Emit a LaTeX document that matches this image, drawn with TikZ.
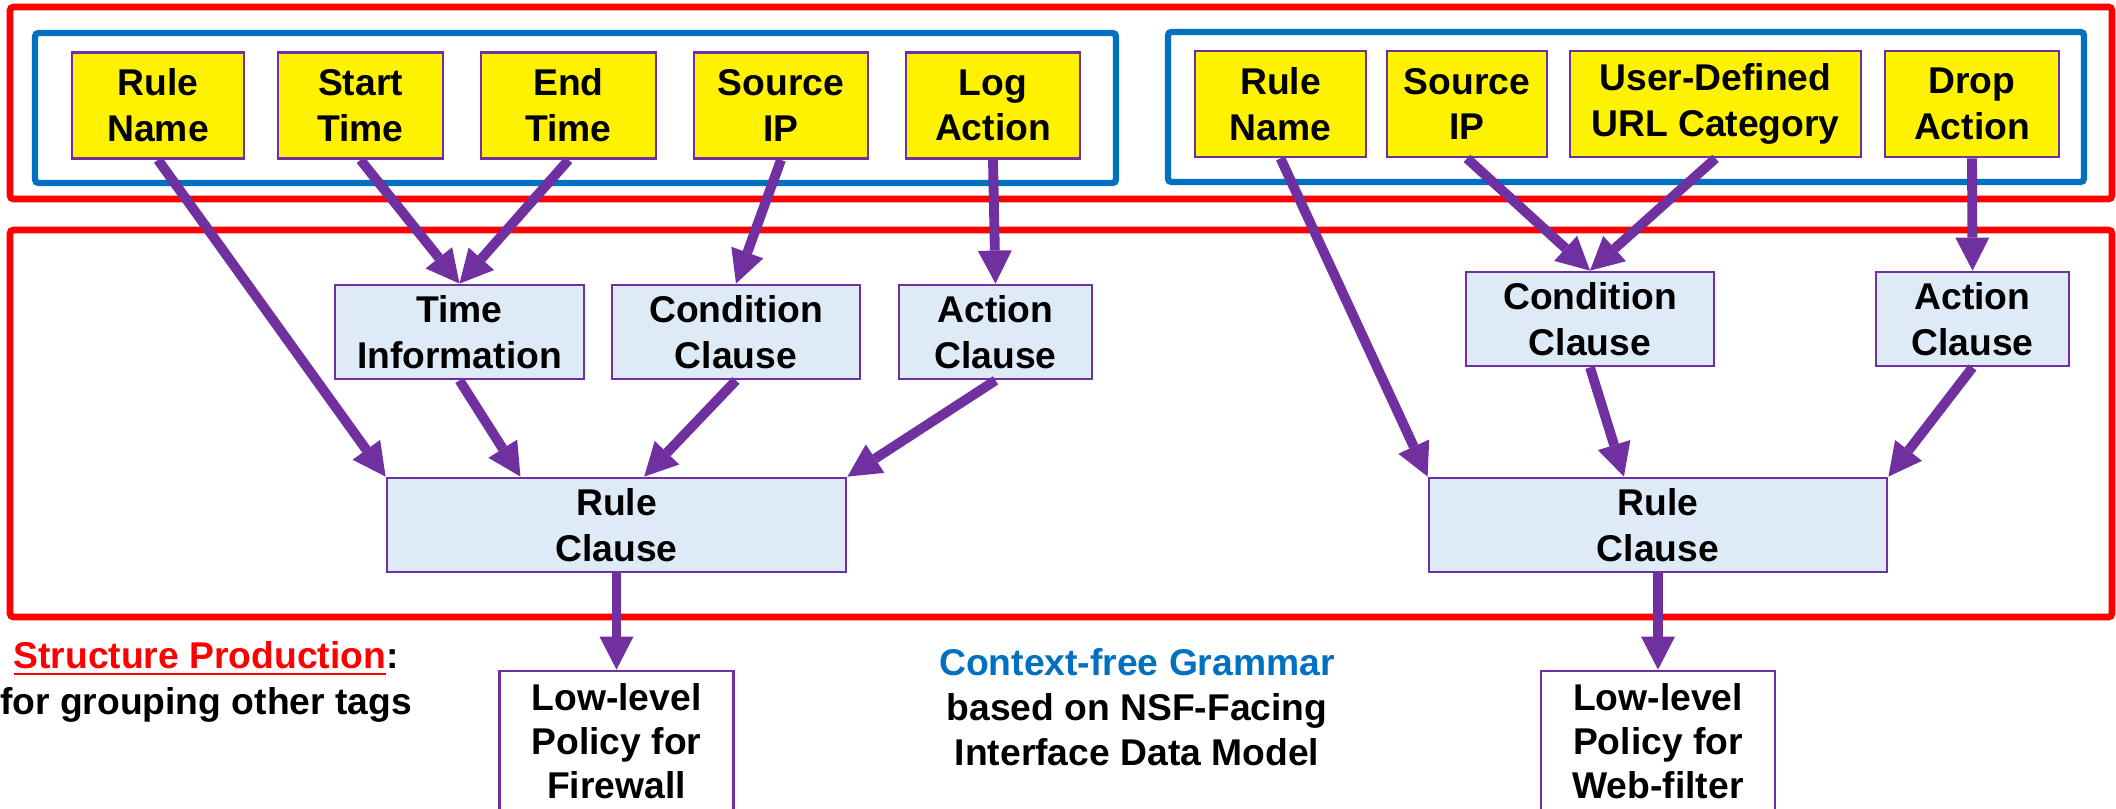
\documentclass[tikz,border=0pt]{standalone}
\usepackage{fontspec}
\setmainfont{Liberation Sans}
\usetikzlibrary{arrows.meta,calc}

\definecolor{tagpurple}{HTML}{7030A0}
\definecolor{clausefill}{HTML}{DEEBF7}
\definecolor{grammarblue}{HTML}{0070C0}

\begin{document}
\begin{tikzpicture}[x=1cm, y=1cm,
    every node/.style={font=\fontsize{10.6}{13}\selectfont\bfseries, align=center, inner sep=0pt},
    tag/.style={draw=tagpurple, line width=0.8pt, fill=yellow, minimum height=1.06cm},
    clause/.style={draw=tagpurple, line width=0.8pt, fill=clausefill, minimum height=0.94cm},
    policy/.style={draw=tagpurple, line width=0.8pt, fill=white, minimum width=2.34cm, minimum height=1.4cm,
                   font=\fontsize{10.6}{12.5}\selectfont\bfseries},
    redframe/.style={draw=red, line width=1.9pt, rounded corners=1pt},
    blueframe/.style={draw=grammarblue, line width=1.8pt, rounded corners=1pt},
    arr/.style={draw=tagpurple, line width=2.8pt,
                -{Triangle[length=3.3mm,width=3.4mm,line width=0pt]}}]

  \useasboundingbox (0,0) rectangle (21.16,-8.09);

  % structure productions and grammar groups
  \draw[redframe] (0.10,-0.07) rectangle (21.12,-1.99);
  \draw[redframe] (0.10,-2.30) rectangle (21.12,-6.17);
  \draw[blueframe] (0.35,-0.33) rectangle (11.16,-1.83);
  \draw[blueframe] (11.68,-0.32) rectangle (20.84,-1.82);

  % firewall tags
  \node[tag, minimum width=1.72cm] (rn1)  at (1.58,-1.055)  {Rule\\Name};
  \node[tag, minimum width=1.65cm] (st)   at (3.605,-1.055) {Start\\Time};
  \node[tag, minimum width=1.75cm] (et)   at (5.685,-1.055) {End\\Time};
  \node[tag, minimum width=1.74cm] (sip1) at (7.81,-1.055)  {Source\\IP};
  \node[tag, minimum width=1.74cm] (la)   at (9.93,-1.055)  {Log\\Action};

  % web-filter tags
  \node[tag, minimum width=1.71cm] (rn2)  at (12.805,-1.04) {Rule\\Name};
  \node[tag, minimum width=1.60cm] (sip2) at (14.67,-1.04)  {Source\\IP};
  \node[tag, minimum width=2.91cm] (url)  at (17.155,-1.04) {User-Defined\\URL Category};
  \node[tag, minimum width=1.74cm] (drop) at (19.72,-1.04)  {Drop\\Action};

  % clauses
  \node[clause, minimum width=2.49cm] (ti)  at (4.595,-3.32) {Time\\Information};
  \node[clause, minimum width=2.48cm] (cc1) at (7.36,-3.32)  {Condition\\Clause};
  \node[clause, minimum width=1.93cm] (ac1) at (9.955,-3.32) {Action\\Clause};
  \node[clause, minimum width=4.59cm] (rc1) at (6.165,-5.25) {Rule\\Clause};

  \node[clause, minimum width=2.48cm] (cc2) at (15.90,-3.19)  {Condition\\Clause};
  \node[clause, minimum width=1.93cm] (ac2) at (19.725,-3.19) {Action\\Clause};
  \node[clause, minimum width=4.58cm] (rc2) at (16.58,-5.25)  {Rule\\Clause};

  % resulting policies
  \node[policy] (ll1) at (6.165,-7.41) {Low-level\\Policy for\\Firewall};
  \node[policy] (ll2) at (16.58,-7.41) {Low-level\\Policy for\\Web-filter};

  % captions
  \node (sp) at (2.06,-6.82) {{\color{red}\underline{Structure Production}}:\\for grouping other tags};
  \node[font=\fontsize{10.6}{12.8}\selectfont\bfseries] (cfg) at (11.37,-7.07)
    {{\color{grammarblue}Context-free Grammar}\\based on NSF-Facing\\Interface Data Model};

  \path[every edge/.style={arr}]
    (rn1.south)  edge (rc1.north west)
    (st.south)   edge (ti.north)
    (et.south)   edge (ti.north)
    (sip1.south) edge (cc1.north)
    (la.south)   edge (ac1.north)
    (ti.south)   edge ($(rc1.north west)!0.292!(rc1.north east)$)
    (cc1.south)  edge ($(rc1.north west)!0.56!(rc1.north east)$)
    (ac1.south)  edge (rc1.north east)
    (rc1.south)  edge (ll1.north);

  \path[every edge/.style={arr}]
    (rn2.south)  edge (rc2.north west)
    (sip2.south) edge (cc2.north)
    (url.south)  edge (cc2.north)
    (drop.south) edge (ac2.north)
    (cc2.south)  edge ($(rc2.north west)!0.426!(rc2.north east)$)
    (ac2.south)  edge (rc2.north east)
    (rc2.south)  edge (ll2.north);
\end{tikzpicture}
\end{document}
